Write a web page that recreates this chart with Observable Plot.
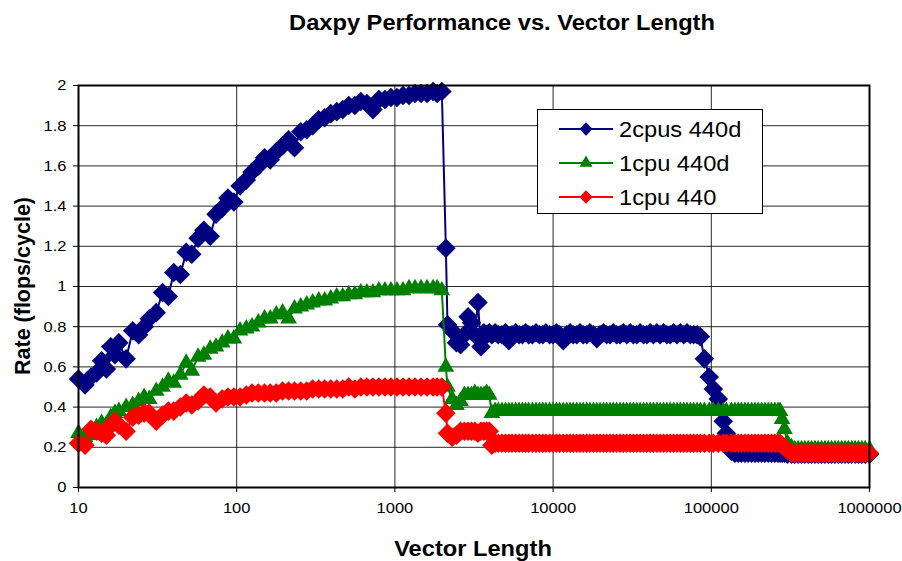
<!DOCTYPE html>
<html><head><meta charset="utf-8">
<script src="https://cdn.jsdelivr.net/npm/d3@7"></script>
<script src="https://cdn.jsdelivr.net/npm/@observablehq/plot@0.6"></script>
<style>
html,body{margin:0;padding:0;background:#fff;}
#chart{width:902px;height:561px;}
svg text{font-family:"Liberation Sans",Arial,sans-serif;}
</style></head><body><div id="chart"></div>
<script>
// ---------- data ----------
const vectorLength = [
  10, 11, 12, 13, 14, 15, 16, 17, 18, 20,
  22, 24, 26, 28, 31, 34, 37, 40, 44, 48,
  52, 57, 62, 68, 74, 81, 88, 96, 105, 115,
  125, 137, 150, 163, 178, 195, 213, 232, 254, 277,
  302, 330, 360, 393, 429, 468, 511, 558, 609, 665,
  726, 792, 865, 944, 1030, 1125, 1228, 1340, 1463, 1597,
  1743, 1850, 1980,
  2100, 2150, 2300, 2450, 2600, 2750, 2900, 3050, 3200, 3350, 3500, 3650, 3800, 3950,
  4100, 4300, 4500, 4750, 5000, 5250, 5500, 5800, 6100, 6400,
  6700, 7000, 7400, 7800, 8200, 8600, 9000, 9500, 10000, 10500,
  11000, 11600, 12200, 12800, 13400, 14100, 14800, 15500, 16300, 17100,
  18000, 18900, 19800, 20800, 21800, 22900, 24000, 25200, 26500, 27800,
  29200, 30700, 32200, 33800, 35500, 37300, 39100, 41100, 43100, 45300,
  47500, 49900, 52400, 55000, 57800, 60700, 63700, 66900, 70200, 73700,
  77400, 81300, 85300,
  90400, 97000, 103000, 110700, 119000, 124500, 134000, 141000, 148000, 155000,
  163000, 171000, 180000, 189000, 198000, 208000, 218000, 229000, 240000, 252000,
  264000, 272000, 280000, 290000, 303000, 321000, 337000, 354000, 372000, 390000,
  410000, 430000, 452000, 474000, 498000, 523000, 549000, 576000, 605000, 635000,
  667000, 700000, 735000, 772000, 811000, 851000, 894000, 939000, 1000000
];

const rate2cpus440d = [
  0.54, 0.51, 0.55, 0.57, 0.63, 0.59, 0.70, 0.66, 0.72, 0.64,
  0.78, 0.76, 0.80, 0.84, 0.87, 0.97, 0.95, 1.07, 1.06, 1.17,
  1.16, 1.24, 1.28, 1.25, 1.36, 1.39, 1.44, 1.42, 1.50, 1.53,
  1.57, 1.60, 1.64, 1.63, 1.67, 1.70, 1.73, 1.69, 1.77, 1.78,
  1.80, 1.83, 1.84, 1.86, 1.87, 1.88, 1.90, 1.90, 1.92, 1.91,
  1.88, 1.93, 1.93, 1.94, 1.94, 1.95, 1.95, 1.96, 1.96, 1.96,
  1.97, 1.96, 1.97,
  1.19, 0.81, 0.78, 0.72, 0.71, 0.76, 0.85, 0.82, 0.76, 0.92, 0.70, 0.77, 0.76, 0.77,
  0.76, 0.77, 0.76, 0.76, 0.77, 0.73, 0.76, 0.77, 0.76, 0.76,
  0.77, 0.76, 0.76, 0.77, 0.76, 0.76, 0.77, 0.76, 0.76, 0.77,
  0.76, 0.73, 0.76, 0.77, 0.76, 0.76, 0.77, 0.76, 0.76, 0.77,
  0.76, 0.74, 0.76, 0.77, 0.76, 0.76, 0.77, 0.76, 0.76, 0.77,
  0.76, 0.77, 0.76, 0.76, 0.77, 0.76, 0.76, 0.77, 0.76, 0.77,
  0.76, 0.77, 0.76, 0.76, 0.77, 0.76, 0.77, 0.76, 0.77, 0.76,
  0.76, 0.76, 0.75,
  0.64, 0.55, 0.49, 0.44, 0.33, 0.27, 0.18, 0.17, 0.17, 0.17,
  0.17, 0.17, 0.17, 0.17, 0.17, 0.17, 0.17, 0.17, 0.17, 0.17,
  0.17, 0.17, 0.17, 0.17, 0.165, 0.165, 0.165, 0.165, 0.165, 0.165,
  0.165, 0.165, 0.165, 0.165, 0.165, 0.165, 0.165, 0.165, 0.165, 0.165,
  0.165, 0.165, 0.165, 0.165, 0.165, 0.165, 0.165, 0.165, 0.165
];

const rate1cpu440d = [
  0.27, 0.25, 0.26, 0.30, 0.32, 0.31, 0.35, 0.37, 0.38, 0.40,
  0.41, 0.43, 0.45, 0.44, 0.48, 0.50, 0.53, 0.52, 0.56, 0.62,
  0.58, 0.65, 0.66, 0.69, 0.70, 0.72, 0.74, 0.74, 0.78, 0.79,
  0.80, 0.82, 0.84, 0.84, 0.86, 0.87, 0.84, 0.89, 0.90, 0.91,
  0.92, 0.93, 0.93, 0.94, 0.95, 0.95, 0.96, 0.96, 0.97, 0.97,
  0.97, 0.98, 0.98, 0.98, 0.98, 0.98, 0.99, 0.99, 0.99, 0.99,
  0.99, 0.99, 0.98,
  0.60, 0.50, 0.44, 0.41, 0.43, 0.46, 0.46, 0.46, 0.47, 0.46, 0.46, 0.46, 0.47, 0.46,
  0.37, 0.38, 0.38, 0.38, 0.38, 0.38, 0.38, 0.38, 0.38, 0.38,
  0.38, 0.38, 0.38, 0.38, 0.38, 0.38, 0.38, 0.38, 0.38, 0.38,
  0.38, 0.38, 0.38, 0.38, 0.38, 0.38, 0.38, 0.38, 0.38, 0.38,
  0.38, 0.38, 0.38, 0.38, 0.38, 0.38, 0.38, 0.38, 0.38, 0.38,
  0.38, 0.38, 0.38, 0.38, 0.38, 0.38, 0.38, 0.38, 0.38, 0.38,
  0.38, 0.38, 0.38, 0.38, 0.38, 0.38, 0.38, 0.38, 0.38, 0.38,
  0.38, 0.38, 0.38,
  0.38, 0.38, 0.38, 0.38, 0.38, 0.38, 0.38, 0.38, 0.38, 0.38,
  0.38, 0.38, 0.38, 0.38, 0.38, 0.38, 0.38, 0.38, 0.38, 0.38,
  0.38, 0.38, 0.34, 0.29, 0.22, 0.20, 0.19, 0.19, 0.19, 0.19,
  0.19, 0.19, 0.19, 0.19, 0.19, 0.19, 0.19, 0.19, 0.19, 0.19,
  0.19, 0.19, 0.19, 0.19, 0.19, 0.19, 0.19, 0.19, 0.19
];

const rate1cpu440 = [
  0.22, 0.21, 0.29, 0.28, 0.27, 0.26, 0.31, 0.33, 0.31, 0.28,
  0.35, 0.36, 0.37, 0.37, 0.33, 0.36, 0.38, 0.38, 0.40, 0.42,
  0.41, 0.43, 0.46, 0.45, 0.42, 0.44, 0.45, 0.45, 0.45, 0.46,
  0.47, 0.47, 0.47, 0.47, 0.47, 0.48, 0.48, 0.48, 0.48, 0.48,
  0.49, 0.49, 0.49, 0.49, 0.49, 0.49, 0.50, 0.49, 0.50, 0.50,
  0.50, 0.50, 0.50, 0.50, 0.50, 0.50, 0.50, 0.50, 0.50, 0.50,
  0.50, 0.50, 0.50,
  0.37, 0.27, 0.25, 0.26, 0.28, 0.28, 0.28, 0.28, 0.28, 0.27, 0.28, 0.28, 0.28, 0.28,
  0.21, 0.22, 0.22, 0.22, 0.22, 0.22, 0.22, 0.22, 0.22, 0.22,
  0.22, 0.22, 0.22, 0.22, 0.22, 0.22, 0.22, 0.22, 0.22, 0.22,
  0.22, 0.22, 0.22, 0.22, 0.22, 0.22, 0.22, 0.22, 0.22, 0.22,
  0.22, 0.22, 0.22, 0.22, 0.22, 0.22, 0.22, 0.22, 0.22, 0.22,
  0.22, 0.22, 0.22, 0.22, 0.22, 0.22, 0.22, 0.22, 0.22, 0.22,
  0.22, 0.22, 0.22, 0.22, 0.22, 0.22, 0.22, 0.22, 0.22, 0.22,
  0.22, 0.22, 0.22,
  0.22, 0.22, 0.22, 0.22, 0.22, 0.22, 0.22, 0.22, 0.22, 0.22,
  0.22, 0.22, 0.22, 0.22, 0.22, 0.22, 0.22, 0.22, 0.22, 0.22,
  0.22, 0.22, 0.21, 0.20, 0.185, 0.17, 0.17, 0.17, 0.17, 0.17,
  0.17, 0.17, 0.17, 0.17, 0.17, 0.17, 0.17, 0.17, 0.17, 0.17,
  0.17, 0.17, 0.17, 0.17, 0.17, 0.17, 0.17, 0.17, 0.17
];

const seriesNames = ["2cpus 440d", "1cpu 440d", "1cpu 440"];
const seriesColors = ["#000080", "#008000", "#FF0000"];
const seriesSymbols = ["diamond2", "triangle", "diamond2"];
const seriesR = [8.8, 6.2, 8.8];
const xTicks = [10, 100, 1000, 10000, 100000, 1000000];
const yTicks = [0, 0.2, 0.4, 0.6, 0.8, 1, 1.2, 1.4, 1.6, 1.8, 2];
const titleText = "Daxpy Performance vs. Vector Length";
const xLabel = "Vector Length";
const yLabel = "Rate (flops/cycle)";

// ---------- build ----------
const seriesValues = [rate2cpus440d, rate1cpu440d, rate1cpu440];
const series = seriesNames.map((name, i) => ({
  name, color: seriesColors[i], symbol: seriesSymbols[i], r: seriesR[i],
  rows: vectorLength.map((x, j) => ({x, y: seriesValues[i][j]}))
}));

const FONT = "'Liberation Sans', Arial, sans-serif";
const W = 902, H = 561;
const mL = 78, mR = 33, mT = 85, mB = 74;

const marks = [
  Plot.gridY(yTicks, {stroke: "#000", strokeOpacity: 0.85, strokeWidth: 1}),
  Plot.gridX(xTicks, {stroke: "#000", strokeOpacity: 0.85, strokeWidth: 1}),
  Plot.axisY(yTicks, {tickSize: 5, tickPadding: 7, fontSize: 15, label: null,
    tickFormat: d => String(+d.toFixed(1))}),
  Plot.axisX(xTicks, {tickSize: 5, tickPadding: 10, fontSize: 15, label: null,
    tickFormat: d => String(d)})
];
for (const s of series) {
  marks.push(Plot.line(s.rows, {x: "x", y: "y", stroke: s.color, strokeWidth: 2}));
  marks.push(Plot.dot(s.rows, {x: "x", y: "y", symbol: s.symbol, r: s.r, fill: s.color, stroke: "none"}));
}
marks.push(Plot.frame({stroke: "#000", strokeWidth: 2}));

const chart = Plot.plot({
  width: W, height: H,
  marginLeft: mL, marginRight: mR, marginTop: mT, marginBottom: mB,
  style: {fontFamily: FONT, fontSize: "15px", color: "black", background: "white", overflow: "visible"},
  x: {type: "log", domain: [10, 1000000]},
  y: {domain: [0, 2]},
  marks
});
document.getElementById("chart").appendChild(chart);

const svg = d3.select(chart);
const STRETCH = 1.1;
function stretch(sel) {
  sel.each(function() {
    const len = this.getComputedTextLength();
    if (len > 0) {
      this.setAttribute("textLength", (len * STRETCH).toFixed(1));
      this.setAttribute("lengthAdjust", "spacingAndGlyphs");
    }
  });
}
stretch(svg.selectAll("g[aria-label='y-axis tick label'] text, g[aria-label='x-axis tick label'] text"));

const t = svg.append("text").attr("x", 502).attr("y", 30).attr("text-anchor", "middle")
  .attr("font-family", FONT).attr("font-weight", "bold").attr("font-size", 21.5).attr("fill", "#000")
  .text(titleText);
stretch(t);
const xl = svg.append("text").attr("x", 473).attr("y", 556).attr("text-anchor", "middle")
  .attr("font-family", FONT).attr("font-weight", "bold").attr("font-size", 21.5).attr("fill", "#000")
  .text(xLabel);
stretch(xl);
svg.append("text").attr("transform", "translate(30,286) rotate(-90)").attr("text-anchor", "middle")
  .attr("font-family", FONT).attr("font-weight", "bold").attr("font-size", 21.5).attr("fill", "#000")
  .text(yLabel);

// legend
const lg = svg.append("g");
lg.append("rect").attr("x", 537.5).attr("y", 109.5).attr("width", 225).attr("height", 104)
  .attr("fill", "#fff").attr("stroke", "#000").attr("stroke-width", 1);
const rowsY = [129, 163, 197];
const symMap = {diamond2: d3.symbolDiamond2, triangle: d3.symbolTriangle};
const legendR = [6, 4.8, 6];
series.forEach((s, i) => {
  const y = rowsY[i];
  lg.append("line").attr("x1", 559).attr("x2", 613).attr("y1", y).attr("y2", y)
    .attr("stroke", s.color).attr("stroke-width", 2);
  lg.append("path").attr("transform", `translate(586,${y})`)
    .attr("d", d3.symbol(symMap[s.symbol], Math.PI * legendR[i] * legendR[i])())
    .attr("fill", s.color);
  const tx = lg.append("text").attr("x", 619).attr("y", y + 7.7).attr("text-anchor", "start")
    .attr("font-family", FONT).attr("font-size", 21.5).attr("fill", "#000").text(s.name);
  stretch(tx);
});
</script>
</body></html>
